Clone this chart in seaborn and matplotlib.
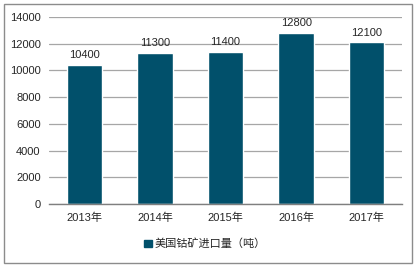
import matplotlib
matplotlib.use("Agg")
import matplotlib.pyplot as plt
import seaborn as sns
import pandas as pd
from matplotlib.patches import Rectangle

years = ["2013年", "2014年", "2015年", "2016年", "2017年"]
values = [10400, 11300, 11400, 12800, 12100]
series_name = "美国钴矿进口量（吨）"

sns.set_theme(style="white")
plt.rcParams['font.family'] = ['Liberation Sans', 'Noto Sans CJK SC', 'DejaVu Sans']

df = pd.DataFrame({"year": years, "value": values, "series": series_name})

fig = plt.figure(figsize=(4.17, 2.69), dpi=100)
ax = fig.add_axes([49/417, 1-204/269, (402-49)/417, (204-17)/269])
color = "#01506B"
sns.barplot(data=df, x="year", y="value", hue="series", palette=[color],
            width=0.5, ax=ax, legend=False, saturation=1)

ax.set_ylim(0, 14000)
ax.set_yticks(range(0, 14001, 2000))
ax.yaxis.grid(True, color="#A6A6A6", lw=0.9)
ax.set_axisbelow(True)
for s in ["top", "right", "left"]:
    ax.spines[s].set_visible(False)
ax.spines["bottom"].set_color("#7F7F7F")
ax.spines["bottom"].set_linewidth(1)
ax.set_xlabel("")
ax.set_ylabel("")
ax.tick_params(axis="both", length=0, labelsize=8, colors="#262626", pad=6)

for p, v in zip(ax.patches, values):
    ax.text(p.get_x() + p.get_width()/2, v + 350, f"{v}", ha="center", va="bottom",
            fontsize=8, color="#262626")

handle = Rectangle((0, 0), 1, 1, color=color)
fig.legend([handle], [series_name], loc="center", bbox_to_anchor=(205/417, 1-244/269),
           frameon=False, fontsize=8, handlelength=0.7, handleheight=0.7,
           handletextpad=0.3)

fig.patches.append(Rectangle((4/417, 1-263/269), (412-4)/417, (263-4)/269,
                             transform=fig.transFigure, fill=False,
                             edgecolor="#8C8C8C", lw=1))

fig.savefig("out.png", dpi=100)
